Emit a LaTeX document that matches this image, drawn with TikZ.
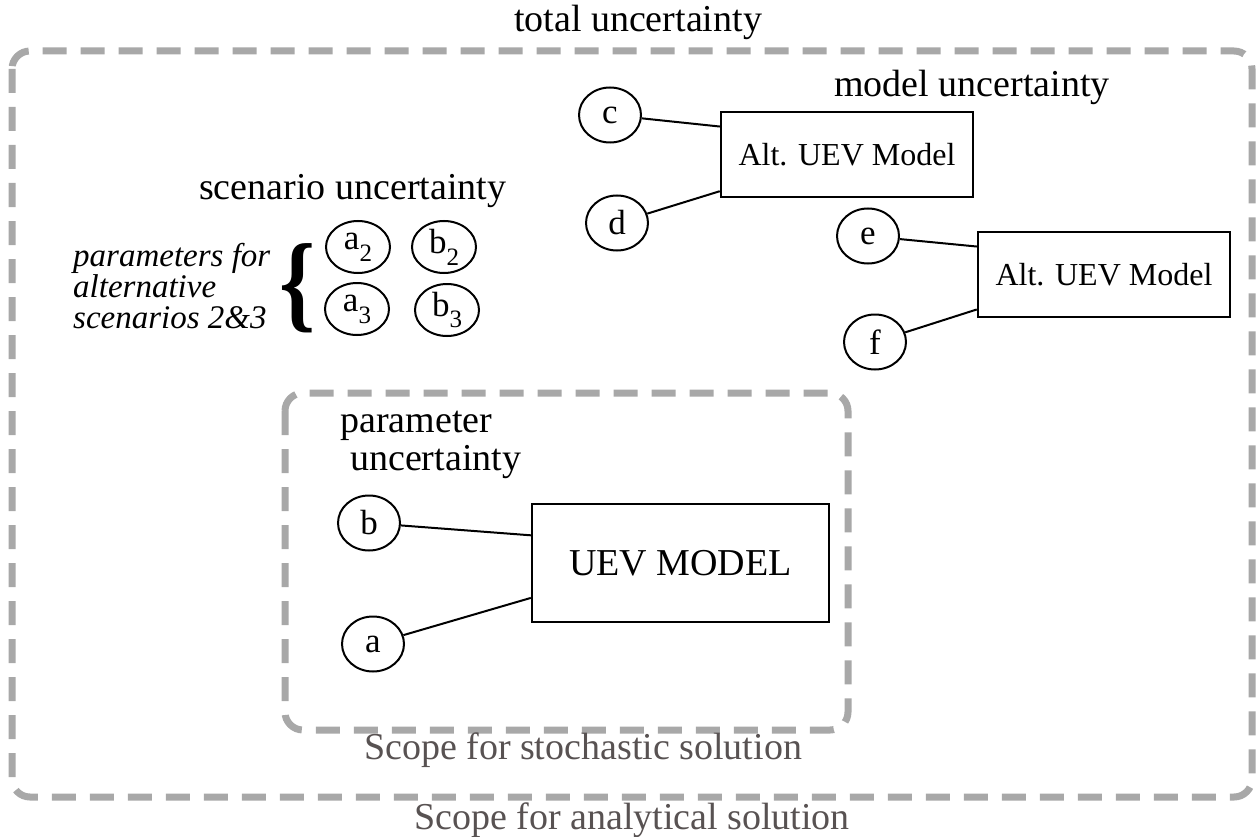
\documentclass[tikz,border=0pt]{standalone}
\usepackage{graphicx}
\usepackage{fontspec}
\setmainfont{Liberation Serif}
\usetikzlibrary{calc,shapes.geometric}

\definecolor{zonegray}{RGB}{168,168,168}
\definecolor{scopegray}{RGB}{88,82,82}

% horizontally condensed glyph, used for the tall brace
\newcommand{\narrowtext}[2]{\scalebox{#1}[1]{#2}}
% lowered index digit for the scenario parameters
\newcommand{\pidx}[1]{\raisebox{-0.34em}{\fontsize{25}{25}\selectfont #1}}

\tikzset{
  zone/.style={draw=zonegray, line width=7pt, dash pattern=on 24pt off 14pt, rounded corners=18pt},
  param/.style={ellipse, draw, line width=2pt, minimum width=62pt, minimum height=55pt,
                inner sep=0pt, font=\fontsize{35}{35}\selectfont},
  scenparam/.style={param, minimum width=64pt, minimum height=52pt},
  model/.style={rectangle, draw, line width=2.4pt, inner sep=0pt},
  link/.style={line width=2pt},
  uncert/.style={inner sep=0pt, font=\fontsize{38}{38}\selectfont},
  scopetext/.style={uncert, text=scopegray},
}

\begin{document}
\begin{tikzpicture}[x=1pt,y=-1pt]
\useasboundingbox (0,0) rectangle (1257,837);

% solution scopes
\draw[zone] (12,51) rectangle (1252,797);
\draw[zone] (285,393) rectangle (848,730);

% headings
\node[uncert, anchor=base] (total) at (638,32) {total uncertainty};
\node[uncert, anchor=base] (modelu) at (972,97) {model uncertainty};
\node[uncert, anchor=base west] (scenu) at (199,200) {scenario uncertainty};
\node[uncert, anchor=base west] (paru1) at (340,432) {parameter};
\node[uncert, anchor=base west] (paru2) at (350,470) {uncertainty};
\node[scopetext, anchor=base] (stoch) at (583,759) {Scope for stochastic solution};
\node[scopetext, anchor=base] (anal) at (632,829) {Scope for analytical solution};

% alternative scenarios
\node[inner sep=0pt, align=left, anchor=north west, font=\fontsize{33}{31}\selectfont\itshape] (altscen) at (73,243)
  {parameters for\\alternative\\scenarios 2\&3};
\node[inner sep=0pt] (brace) at (298,288) {\narrowtext{0.85}{\fontsize{108}{108}\selectfont\bfseries\{}};
\node[scenparam] (a2) at (358,247) {a\pidx{2}};
\node[scenparam] (b2) at (444,247) {b\pidx{2}};
\node[scenparam] (a3) at (357,309) {a\pidx{3}};
\node[scenparam] (b3) at (447,310) {b\pidx{3}};

% alternative models
\node[model, minimum width=252pt, minimum height=85pt, font=\fontsize{32}{32}\selectfont] (alt1) at (847,154.5)
  {Alt. UEV Model};
\node[model, minimum width=252pt, minimum height=85pt, font=\fontsize{32}{32}\selectfont] (alt2) at (1104,274.5)
  {Alt. UEV Model};
\node[param] (c) at (610,115) {c};
\node[param] (d) at (617,223) {d};
\node[param] (e) at (868,236) {e};
\node[param] (f) at (875,342) {f};

% base model
\node[model, minimum width=297pt, minimum height=118pt, font=\fontsize{38}{38}\selectfont] (uev) at (680.5,563)
  {UEV MODEL};
\node[param] (b) at (369,523) {b};
\node[param] (a) at (373,644) {a};

% input points on the model boxes
\coordinate (alt1up) at ($(alt1.north west)!0.18!(alt1.south west)$);
\coordinate (alt1lo) at ($(alt1.north west)!0.92!(alt1.south west)$);
\coordinate (alt2up) at ($(alt2.north west)!0.18!(alt2.south west)$);
\coordinate (alt2lo) at ($(alt2.north west)!0.90!(alt2.south west)$);
\coordinate (uevup) at ($(uev.north west)!0.27!(uev.south west)$);
\coordinate (uevlo) at ($(uev.north west)!0.79!(uev.south west)$);

\draw[link] (c) -- (alt1up);
\draw[link] (d) -- (alt1lo);
\draw[link] (e) -- (alt2up);
\draw[link] (f) -- (alt2lo);
\draw[link] (b) -- (uevup);
\draw[link] (a) -- (uevlo);
\end{tikzpicture}
\end{document}
